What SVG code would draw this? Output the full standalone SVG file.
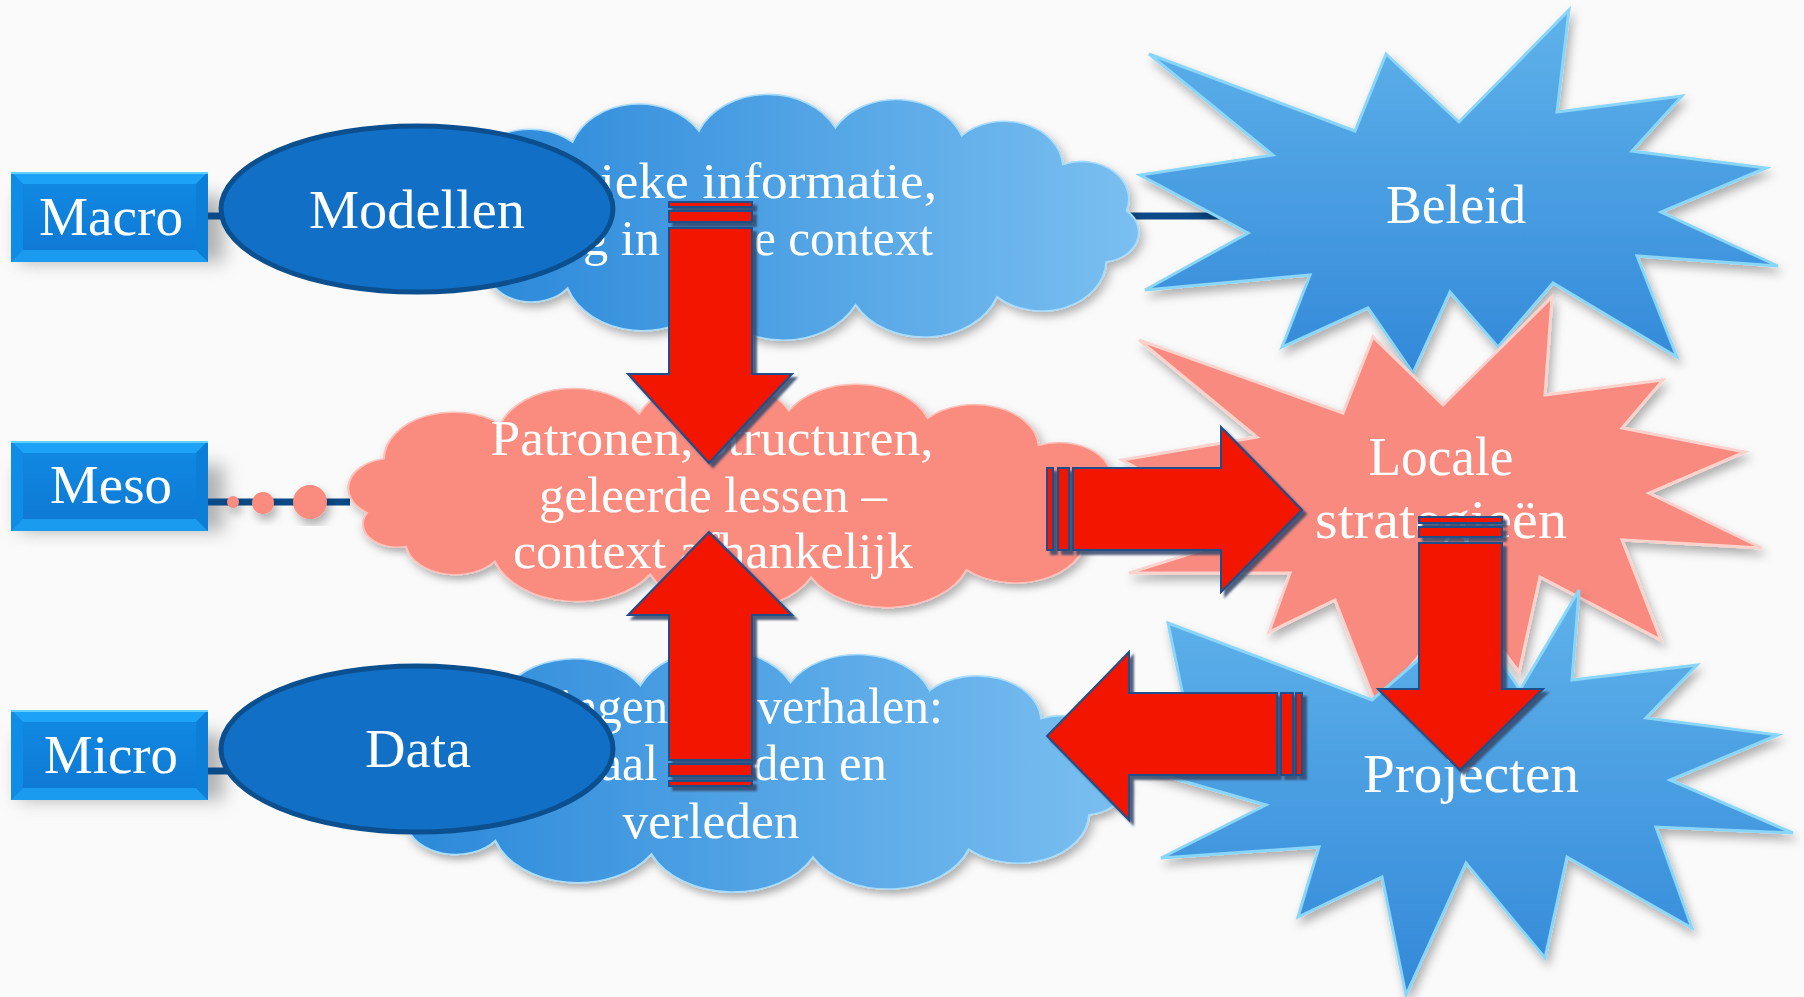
<svg xmlns="http://www.w3.org/2000/svg" xmlns:xlink="http://www.w3.org/1999/xlink" width="1804" height="997" viewBox="0 0 1804 997">
<style>
.t{font-family:"Liberation Serif","Times New Roman",serif;fill:#ffffff;}
.big{font-size:54px;}
.cl{font-size:50px;}
.line{stroke:#0b4a88;stroke-width:7;fill:none;}
.arr{fill:#f21500;stroke:#1d4f8c;stroke-width:2;}
.ell{fill:#1170c5;stroke:#0b4f8f;stroke-width:5;}
</style>
<defs>
<linearGradient id="gBlueCloud" x1="0" y1="0" x2="1" y2="0">
<stop offset="0" stop-color="#2585d8"/>
<stop offset="1" stop-color="#7abff0"/>
</linearGradient>
<linearGradient id="gStar" x1="0" y1="0" x2="0" y2="1">
<stop offset="0" stop-color="#5fb2ea"/>
<stop offset="1" stop-color="#3389d9"/>
</linearGradient>
<linearGradient id="gFace" x1="0" y1="0" x2="0" y2="1">
<stop offset="0" stop-color="#1088e2"/>
<stop offset="1" stop-color="#0f7ad5"/>
</linearGradient>
<filter id="sh" x="-10%" y="-10%" width="125%" height="130%">
<feDropShadow dx="3" dy="6" stdDeviation="5" flood-color="#000" flood-opacity="0.3"/>
</filter>
<filter id="ash" x="-10%" y="-10%" width="125%" height="125%">
<feDropShadow dx="4" dy="4" stdDeviation="1" flood-color="#34496b" flood-opacity="0.85"/>
</filter>
<filter id="blur" x="-30%" y="-50%" width="160%" height="200%">
<feGaussianBlur stdDeviation="9"/>
</filter>
<path id="cloud" d="M20,177 A40,40 0 0 1 35,105 A63,63 0 0 1 140,59 A69,69 0 0 1 265,45 A74,74 0 0 1 400,41 A69,69 0 0 1 525,51 A58,58 0 0 1 625,87 A47,47 0 0 1 688,145 A37,37 0 0 1 668,209 A64,64 0 0 1 560,253 A77,77 0 0 1 420,263 A80,80 0 0 1 275,259 A78,78 0 0 1 135,242 A45,45 0 0 1 55,222 A31,31 0 0 1 20,177 Z"/>
<g id="box">
<rect x="8" y="24" width="205" height="66" fill="#777" opacity="0.55" filter="url(#blur)"/>
<rect x="0" y="0" width="197" height="90" fill="#1182de"/>
<polygon points="0,0 197,0 185,12 12,12" fill="#1ca2f6"/>
<polygon points="0,90 197,90 185,78 12,78" fill="#1a9bf0"/>
<polygon points="0,0 12,12 12,78 0,90" fill="#0f8ce6"/>
<polygon points="197,0 185,12 185,78 197,90" fill="#0c7ed8"/>
<rect x="12" y="12" width="173" height="66" fill="url(#gFace)"/>
<line x1="0" y1="1" x2="197" y2="1" stroke="#5fd0ff" stroke-width="2"/>
</g>
</defs>

<rect x="0" y="0" width="1804" height="997" fill="#fafafa"/>

<g id="node-macro">
<use xlink:href="#box" transform="translate(11,172)"/>
<text class="t big" x="111" y="235" text-anchor="middle" textLength="144" lengthAdjust="spacingAndGlyphs">Macro</text>
</g>
<g id="node-meso">
<use xlink:href="#box" transform="translate(11,441)"/>
<text class="t big" x="111" y="503" text-anchor="middle" textLength="122" lengthAdjust="spacingAndGlyphs">Meso</text>
</g>
<g id="node-micro">
<use xlink:href="#box" transform="translate(11,710)"/>
<text class="t big" x="111" y="773" text-anchor="middle" textLength="134" lengthAdjust="spacingAndGlyphs">Micro</text>
</g>

<g id="connectors">
<line class="line" x1="208" y1="216" x2="1235" y2="216"/>
<line class="line" x1="208" y1="502" x2="350" y2="502"/>
<line class="line" x1="208" y1="771" x2="235" y2="771"/>
<g fill="#f98b7f" filter="url(#sh)">
<circle cx="233" cy="502" r="6"/>
<circle cx="263" cy="503" r="11"/>
<circle cx="310" cy="502" r="17"/>
</g>
</g>

<g id="node-cloud-top">
<use xlink:href="#cloud" transform="translate(431,95) scale(1.011,0.798)" fill="url(#gBlueCloud)" stroke="#a9dcfa" stroke-width="2" filter="url(#sh)"/>
<text class="t cl" x="600" y="198" textLength="337" lengthAdjust="spacingAndGlyphs">ieke informatie,</text>
<text class="t cl" x="583" y="255" textLength="77" lengthAdjust="spacingAndGlyphs">g in</text>
<text class="t cl" x="754" y="255" textLength="179" lengthAdjust="spacingAndGlyphs">e context</text>
</g>

<g id="node-cloud-meso">
<use xlink:href="#cloud" transform="translate(345,380) scale(1.11,0.75)" fill="#f98b7f" stroke="#fcc1ba" stroke-width="2" filter="url(#sh)"/>
<text class="t cl" x="712" y="455" text-anchor="middle" textLength="443" lengthAdjust="spacingAndGlyphs">Patronen, structuren,</text>
<text class="t cl" x="713" y="512" text-anchor="middle" textLength="348" lengthAdjust="spacingAndGlyphs">geleerde lessen –</text>
<text class="t cl" x="713" y="568" text-anchor="middle" textLength="400" lengthAdjust="spacingAndGlyphs">context afhankelijk</text>
</g>

<g id="node-cloud-bottom">
<use xlink:href="#cloud" transform="translate(345,650) scale(1.114,0.788)" fill="url(#gBlueCloud)" stroke="#a9dcfa" stroke-width="2" filter="url(#sh)"/>
<text class="t cl" x="559" y="723" textLength="109" lengthAdjust="spacingAndGlyphs">ingen</text>
<text class="t cl" x="757" y="723" textLength="186" lengthAdjust="spacingAndGlyphs">verhalen:</text>
<text class="t cl" x="600" y="780" textLength="58" lengthAdjust="spacingAndGlyphs">aal</text>
<text class="t cl" x="753" y="780" textLength="134" lengthAdjust="spacingAndGlyphs">den en</text>
<text class="t cl" x="711" y="838" text-anchor="middle" textLength="177" lengthAdjust="spacingAndGlyphs">verleden</text>
</g>

<g id="node-modellen">
<ellipse class="ell" cx="417" cy="209" rx="196" ry="83"/>
<text class="t big" x="417" y="228" text-anchor="middle" textLength="216" lengthAdjust="spacingAndGlyphs">Modellen</text>
</g>
<g id="node-data">
<ellipse class="ell" cx="417" cy="749" rx="196" ry="83"/>
<text class="t big" x="418" y="767" text-anchor="middle" textLength="106" lengthAdjust="spacingAndGlyphs">Data</text>
</g>

<g id="node-beleid">
<polygon points="1149,54 1355,131 1386,54 1459,122 1569,10 1557,112 1682,96 1632,151 1766,168 1661,212 1778,266 1637,256 1677,357 1553,283 1498,347 1450,292 1413,373 1368,308 1282,347 1310,275 1145,290 1248,233 1140,175 1273,155" fill="url(#gStar)" stroke="#8ad6f8" stroke-width="3" stroke-linejoin="miter" filter="url(#sh)"/>
<text class="t big" x="1456" y="223" text-anchor="middle" textLength="140" lengthAdjust="spacingAndGlyphs">Beleid</text>
</g>

<g id="node-locale">
<polygon points="1139,340 1343,413 1373,337 1443,405 1552,297 1545,395 1663,380 1622,428 1745,452 1649,493 1762,548 1622,540 1661,640 1540,577 1519,672 1465,600 1377,707 1335,600 1269,632 1290,573 1129,573 1257,533 1122,460 1257,437" fill="#f98a80" stroke="#fcd2cd" stroke-width="3" filter="url(#sh)"/>
<text class="t big" x="1441" y="475" text-anchor="middle" textLength="145" lengthAdjust="spacingAndGlyphs">Locale</text>
<text class="t big" x="1441" y="538" text-anchor="middle" textLength="252" lengthAdjust="spacingAndGlyphs">strategieën</text>
</g>

<g id="node-projecten">
<polygon points="1168,623 1372,700 1470,615 1520,690 1579,590 1572,680 1697,665 1646,718 1778,735 1670,780 1793,833 1656,827 1692,928 1567,857 1545,958 1466,863 1406,995 1382,877 1298,917 1319,847 1161,858 1266,805 1110,760 1185,705" fill="url(#gStar)" stroke="#8ad6f8" stroke-width="3" filter="url(#sh)"/>
<text class="t big" x="1471" y="792" text-anchor="middle" textLength="216" lengthAdjust="spacingAndGlyphs">Projecten</text>
</g>

<g id="arrows" filter="url(#ash)">
<g id="arrow-macro-meso">
<rect class="arr" x="669" y="202" width="83" height="5"/>
<rect class="arr" x="669" y="211" width="83" height="11"/>
<path class="arr" d="M669,228 H752 V374 H792 L709,463 L628,374 H669 Z"/>
</g>
<g id="arrow-micro-meso">
<path class="arr" d="M669,760 H752 V615 H792 L709,532 L628,615 H669 Z"/>
<rect class="arr" x="669" y="764" width="83" height="12"/>
<rect class="arr" x="669" y="781" width="83" height="5"/>
</g>
<g id="arrow-meso-locale">
<rect class="arr" x="1047" y="468" width="6" height="82"/>
<rect class="arr" x="1058" y="468" width="11" height="82"/>
<path class="arr" d="M1073,468 V550 H1221 V592 L1302,510 L1221,427 V468 Z"/>
</g>
<g id="arrow-locale-projecten">
<rect class="arr" x="1419" y="517" width="83" height="6"/>
<rect class="arr" x="1419" y="527" width="83" height="10"/>
<path class="arr" d="M1419,543 H1502 V689 H1543 L1460,770 L1378,689 H1419 Z"/>
</g>
<g id="arrow-projecten-micro">
<path class="arr" d="M1277,693 V775 H1129 V820 L1047,736 L1129,652 V693 Z"/>
<rect class="arr" x="1281" y="693" width="12" height="82"/>
<rect class="arr" x="1296" y="693" width="6" height="82"/>
</g>
</g>
</svg>
